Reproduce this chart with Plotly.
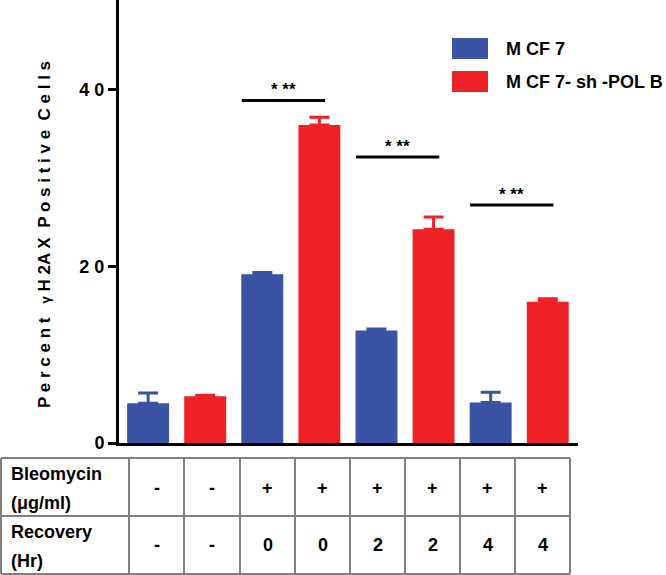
import plotly.graph_objects as go

# ---- data ----
conditions = ["Ctrl", "Ctrl", "Bleo 0h", "Bleo 0h", "Bleo 2h", "Bleo 2h", "Bleo 4h", "Bleo 4h"]
mcf7_pos = [0, 2, 4, 6]
mcf7_vals = [4.5, 19.1, 12.75, 4.6]
mcf7_err = [1.15, 0.2, 0.15, 1.15]
sh_pos = [1, 3, 5, 7]
sh_vals = [5.3, 36.0, 24.2, 16.0]
sh_err = [0.1, 0.9, 1.4, 0.35]
bleomycin_row = ["-", "-", "+", "+", "+", "+", "+", "+"]
recovery_row = ["-", "-", "0", "0", "2", "2", "4", "4"]
sig_pairs = [(2, 3, 38.8), (4, 5, 32.4), (6, 7, 26.95)]
y_ticks = [0, 20, 40]

BLUE = "#3A53A4"
RED = "#EE2226"
FONT = "Liberation Sans, Arial, sans-serif"

W, H = 666, 575
L, R, T, B = 119, 88, 0, 132
PW, PH = W - L - R, H - T - B


def px(x):
    return (x - L) / PW


def py(y):
    return (H - B - y) / PH


fig = go.Figure()
fig.add_trace(go.Bar(
    x=mcf7_pos, y=mcf7_vals, width=0.735, marker=dict(color=BLUE, line=dict(width=0)),
    error_y=dict(type="data", array=mcf7_err, arrayminus=[0] * 4, symmetric=False,
                 color=BLUE, thickness=3, width=10),
    name="MCF7", showlegend=False))
fig.add_trace(go.Bar(
    x=sh_pos, y=sh_vals, width=0.735, marker=dict(color=RED, line=dict(width=0)),
    error_y=dict(type="data", array=sh_err, arrayminus=[0] * 4, symmetric=False,
                 color=RED, thickness=3, width=10),
    name="MCF7-sh-POLB", showlegend=False))

shapes = []
annotations = []

# significance bars
for a, b, yv in sig_pairs:
    shapes.append(dict(type="line", xref="x", yref="y", x0=a - 0.36, x1=b + 0.1, y0=yv, y1=yv,
                       line=dict(color="black", width=3)))
    annotations.append(dict(xref="x", yref="y", x=(a - 0.36 + b + 0.1) / 2, y=yv, yanchor="bottom",
                            text="<b>* **</b>", showarrow=False, yshift=-1,
                            font=dict(family=FONT, size=17, color="black")))

# legend (manual)
for i, (col, lab) in enumerate([(BLUE, "M CF 7"), (RED, "M CF 7- sh -POL B")]):
    y0 = 38 + i * 33
    shapes.append(dict(type="rect", xref="paper", yref="paper", x0=px(452), x1=px(488),
                       y0=py(y0), y1=py(y0 + 21), fillcolor=col, line=dict(width=0)))
    annotations.append(dict(xref="paper", yref="paper", x=px(504), y=py(y0 + 11), xanchor="left",
                            yanchor="middle", text="<b>" + lab + "</b>", showarrow=False,
                            font=dict(family=FONT, size=18, color="black")))

# y-axis title
annotations.append(dict(xref="paper", yref="paper", x=px(44), y=py(235), xanchor="center",
                        yanchor="middle", textangle=-90, showarrow=False,
                        text="<b>P e r c e n t   <span style='font-size:13px'>γ</span> H 2A X  P o s i t i v e  C e l l s</b>",
                        font=dict(family=FONT, size=17, color="black")))

# table
col_edges = [1, 129, 184, 240, 295, 350, 405, 460, 515, 570]
row_edges = [458, 516, 574]
GRAY = "#7F7F7F"
for yy in row_edges:
    shapes.append(dict(type="line", xref="paper", yref="paper", x0=px(col_edges[0]), x1=px(col_edges[-1]),
                       y0=py(yy), y1=py(yy), line=dict(color=GRAY, width=2)))
for xx in col_edges:
    shapes.append(dict(type="line", xref="paper", yref="paper", x0=px(xx), x1=px(xx),
                       y0=py(row_edges[0]), y1=py(row_edges[-1]), line=dict(color=GRAY, width=2)))

TF = dict(family=FONT, size=18, color="black")
for txt, yc in [("Bleomycin", 474), ("(μg/ml)", 503), ("Recovery", 532), ("(Hr)", 561)]:
    annotations.append(dict(xref="paper", yref="paper", x=px(9), y=py(yc), xanchor="left",
                            yanchor="middle", text="<b>" + txt + "</b>", showarrow=False, font=TF))
for i in range(8):
    xc = (col_edges[i + 1] + col_edges[i + 2]) / 2
    annotations.append(dict(xref="paper", yref="paper", x=px(xc), y=py(488), xanchor="center",
                            yanchor="middle", text="<b>" + bleomycin_row[i] + "</b>", showarrow=False, font=TF))
    annotations.append(dict(xref="paper", yref="paper", x=px(xc), y=py(545), xanchor="center",
                            yanchor="middle", text="<b>" + recovery_row[i] + "</b>", showarrow=False, font=TF))

fig.update_layout(
    width=W, height=H, margin=dict(l=L, r=R, t=T, b=B), plot_bgcolor="white", paper_bgcolor="white",
    barmode="overlay", shapes=shapes, annotations=annotations,
    xaxis=dict(range=[-0.51, 7.53], showticklabels=False, ticks="", showgrid=False, zeroline=False,
               showline=True, linecolor="black", linewidth=3),
    yaxis=dict(range=[0, PH / 8.83], tickvals=y_ticks, ticktext=[" ".join(str(v)) for v in y_ticks],
               ticks="outside", ticklen=8, tickwidth=3, tickcolor="black", showgrid=False, zeroline=False,
               showline=True, linecolor="black", linewidth=3,
               tickfont=dict(family=FONT, size=18, color="black", weight="bold")),
)

fig.write_html("out.html", config={"displayModeBar": False},
               post_script="document.body.style.margin='0';document.body.style.padding='0';")
